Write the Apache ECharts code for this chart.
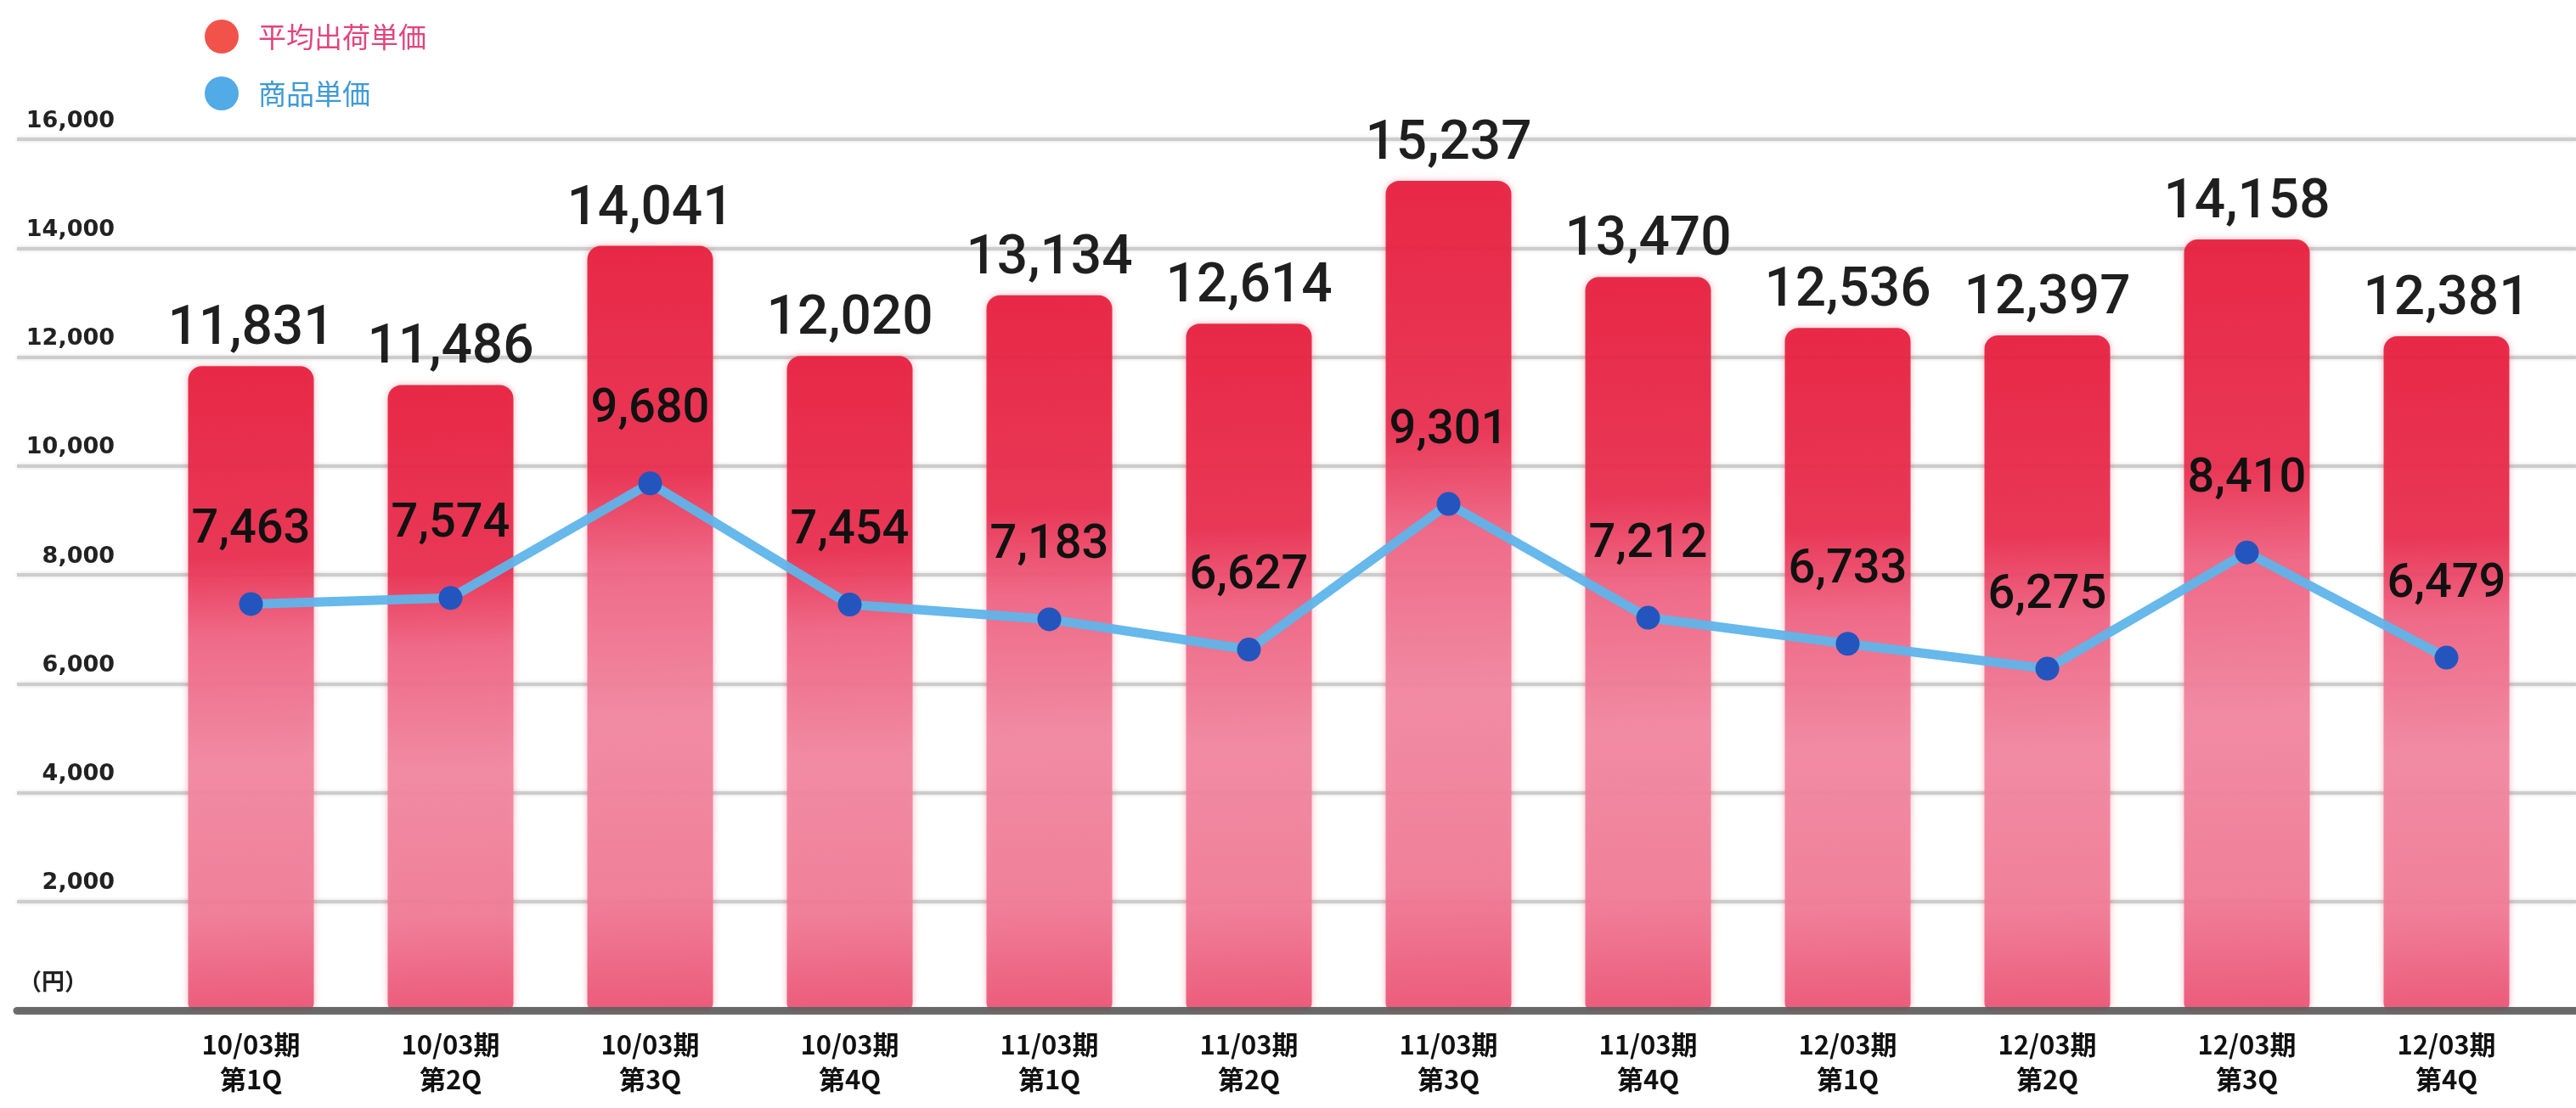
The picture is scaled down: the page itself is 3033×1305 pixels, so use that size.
<!DOCTYPE html>
<html>
<head>
<meta charset="utf-8">
<script src="https://cdn.jsdelivr.net/npm/echarts@6/dist/echarts.min.js"></script>
<style>
  html, body { margin: 0; padding: 0; background: #ffffff; }
  #chart { width: 3033px; height: 1305px; }
</style>
</head>
<body>
<div id="chart"></div>
<script>
// Fiscal periods and quarters along the category axis
const periods = ['10/03期', '10/03期', '10/03期', '10/03期', '11/03期', '11/03期', '11/03期', '11/03期', '12/03期', '12/03期', '12/03期', '12/03期'];
const quarters = ['第1Q', '第2Q', '第3Q', '第4Q', '第1Q', '第2Q', '第3Q', '第4Q', '第1Q', '第2Q', '第3Q', '第4Q'];

// Average shipment price (bars) and item unit price (line), in yen
const avgShipPrice = [11831, 11486, 14041, 12020, 13134, 12614, 15237, 13470, 12536, 12397, 14158, 12381];
const unitPrice = [7463, 7574, 9680, 7454, 7183, 6627, 9301, 7212, 6733, 6275, 8410, 6479];

// Value axis range
const yMin = 0;
const yMax = 16000;
const yStep = 2000;

const seriesNames = ['平均出荷単価', '商品単価'];

const categories = periods.map((p, i) => p + '\n' + quarters[i]);
const fmt = v => Number(v).toLocaleString('en-US');

const chart = echarts.init(document.getElementById('chart'));

// Watercolour-like bar fill: deep red cap fading into pink
const barGradient = new echarts.graphic.LinearGradient(0, 0, 0.15, 1, [
  { offset: 0, color: '#e61f3e' },
  { offset: 0.3, color: '#e83050' },
  { offset: 0.42, color: '#ee6584' },
  { offset: 0.62, color: '#f088a1' },
  { offset: 0.85, color: '#f07c97' },
  { offset: 1, color: '#ea5676' }
]);

chart.setOption({
  backgroundColor: '#ffffff',
  animation: false,
  legend: {
    orient: 'vertical',
    left: 236,
    top: 18,
    itemWidth: 40,
    itemHeight: 40,
    itemGap: 27,
    icon: 'circle',
    textStyle: {
      fontSize: 33,
      fontFamily: 'Noto Sans CJK JP',
      padding: [0, 0, 0, 18]
    },
    data: [
      { name: seriesNames[0], itemStyle: { color: '#f0483f' }, textStyle: { color: '#e2457c' } },
      { name: seriesNames[1], itemStyle: { color: '#52aae6' }, textStyle: { color: '#3f9ad6' } }
    ]
  },
  graphic: [
    {
      type: 'text',
      left: 22,
      top: 1142,
      style: {
        text: '（円）',
        font: 'bold 27px "Noto Sans CJK JP"',
        fill: '#222222'
      }
    }
  ],
  grid: [
    { left: 20, right: 0, top: 164, bottom: 115 },
    { left: 178, right: 35, top: 164, bottom: 115 }
  ],
  xAxis: [
    {
      type: 'value',
      gridIndex: 0,
      min: 0,
      max: 1,
      z: 5,
      axisLine: { show: true, onZero: false, lineStyle: { color: 'rgba(95,95,95,0.92)', width: 9 } },
      axisTick: { show: false },
      axisLabel: { show: false },
      splitLine: { show: false }
    },
    {
      type: 'category',
      gridIndex: 1,
      data: categories,
      axisLine: { show: false },
      axisTick: { show: false },
      axisLabel: {
        margin: 20,
        fontSize: 31,
        lineHeight: 41,
        fontWeight: 'bold',
        fontFamily: 'Noto Sans CJK JP',
        color: '#111111'
      }
    }
  ],
  yAxis: [
    {
      type: 'value',
      gridIndex: 0,
      min: yMin,
      max: yMax,
      interval: yStep,
      axisLine: { show: false },
      axisTick: { show: false },
      axisLabel: {
        inside: true,
        align: 'right',
        margin: 115,
        verticalAlign: 'bottom',
        padding: [0, 0, 8, 0],
        fontFamily: 'DejaVu Sans',
        fontWeight: 'bold',
        fontSize: 27,
        color: '#222222',
        formatter: v => (v === 0 ? '' : fmt(v))
      },
      splitLine: {
        lineStyle: { color: '#cdcdcd', width: 4, shadowBlur: 4, shadowColor: 'rgba(0,0,0,0.15)' }
      }
    },
    {
      type: 'value',
      gridIndex: 1,
      min: yMin,
      max: yMax,
      interval: yStep,
      show: false,
      splitLine: { show: false }
    }
  ],
  series: [
    {
      name: seriesNames[0],
      type: 'bar',
      xAxisIndex: 1,
      yAxisIndex: 1,
      data: avgShipPrice,
      barWidth: 148,
      z: 2,
      itemStyle: {
        color: barGradient,
        opacity: 0.94,
        borderRadius: [16, 16, 8, 8],
        shadowBlur: 8,
        shadowColor: 'rgba(228,40,72,0.35)'
      },
      label: {
        show: true,
        position: 'top',
        distance: 10,
        fontFamily: 'Roboto',
        fontWeight: 500,
        fontSize: 64,
        color: '#111111',
        formatter: p => fmt(p.value)
      }
    },
    {
      name: seriesNames[1],
      type: 'line',
      xAxisIndex: 1,
      yAxisIndex: 1,
      data: unitPrice,
      z: 4,
      symbol: 'circle',
      symbolSize: 28,
      lineStyle: { color: '#5fb4ea', width: 11, opacity: 0.95 },
      itemStyle: { color: '#2455be' },
      label: {
        show: true,
        position: 'top',
        distance: 44,
        fontFamily: 'Roboto',
        fontWeight: 500,
        fontSize: 56,
        color: '#111111',
        formatter: p => fmt(p.value)
      }
    }
  ]
});
</script>
</body>
</html>
